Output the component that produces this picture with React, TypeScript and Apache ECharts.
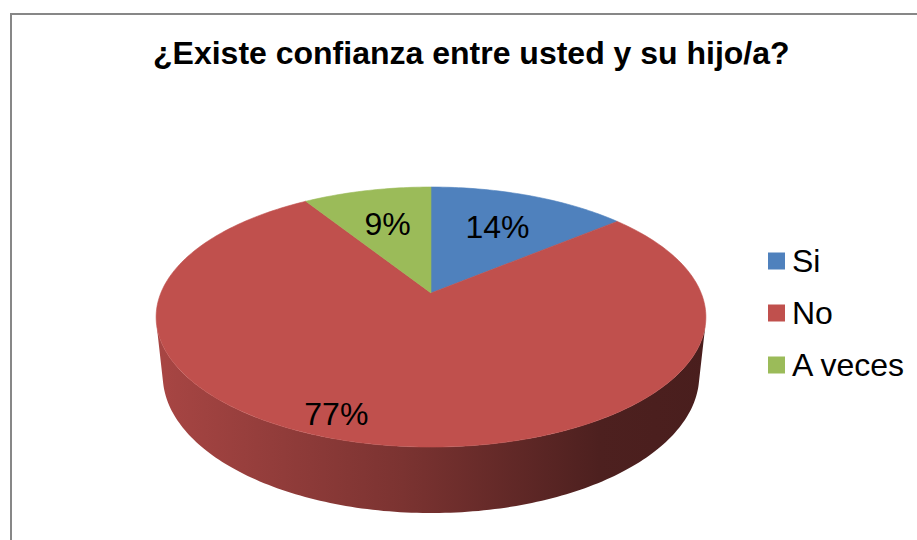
import React, { useEffect, useRef } from "react";
import * as echarts from "echarts";

const CATEGORIES = ["Si", "No", "A veces"];
const VALUES = [14, 77, 9];
const COLORS = ["#4F81BD", "#C0504D", "#9BBB59"];
const TITLE = "¿Existe confianza entre usted y su hijo/a?";

// perspective model of the 3D pie (layout constants)
const CX = 431;
const CY = 293;
const FOCAL = 1294;
const DIST = 4.79;
const TILT = (27.7 * Math.PI) / 180;
const DEPTH = 0.247;
const FONT = "'Liberation Sans', Arial, sans-serif";

const SA = Math.sin(TILT);
const CA = Math.cos(TILT);

function proj(X: number, Y: number, Z: number): number[] {
  const yc = Y * SA + Z * CA;
  const d = DIST + Y * CA - Z * SA;
  return [CX + (FOCAL * X) / d, CY - (FOCAL * yc) / d];
}
function rim(deg: number, r: number, z: number): number[] {
  const a = (deg * Math.PI) / 180;
  return proj(r * Math.sin(a), r * Math.cos(a), z);
}
function shade(hex: string, k: number): string {
  const n = parseInt(hex.slice(1), 16);
  const r = Math.round(((n >> 16) & 255) * k);
  const g = Math.round(((n >> 8) & 255) * k);
  const b = Math.round((n & 255) * k);
  return `rgb(${r},${g},${b})`;
}
function sliceRange(i: number): number[] {
  const total = VALUES.reduce((s, v) => s + v, 0);
  let acc = 0;
  for (let k = 0; k < i; k++) acc += VALUES[k];
  return [(acc / total) * 360, ((acc + VALUES[i]) / total) * 360, VALUES[i] / total];
}
function arcPoints(a0: number, a1: number, r: number, z: number): number[][] {
  const pts: number[][] = [];
  const steps = Math.max(2, Math.ceil((a1 - a0) / 1));
  for (let s = 0; s <= steps; s++) pts.push(rim(a0 + ((a1 - a0) * s) / steps, r, z));
  return pts;
}

// visible part of the side wall
const VIS_LIMIT = (Math.acos(-1 / (DIST * CA)) * 180) / Math.PI;
const VIS0 = VIS_LIMIT;
const VIS1 = 360 - VIS_LIMIT;

export default function App() {
  const ref = useRef<HTMLDivElement>(null);
  useEffect(() => {
    if (!ref.current) return;
    const chart = echarts.init(ref.current, null, { renderer: "svg" });
    const leftX = proj(-1, 0, 0)[0] - 10;
    const rightX = proj(1, 0, 0)[0] + 10;
    const option: any = {
      animation: false,
      backgroundColor: "#ffffff",
      title: {
        text: TITLE,
        left: 148,
        top: 32,
        padding: 5,
        textStyle: { fontSize: 32, fontWeight: "bold", color: "#000", fontFamily: FONT },
      },
      legend: {
        orient: "vertical",
        left: 768,
        top: 245,
        padding: 0,
        itemWidth: 17,
        itemHeight: 17,
        itemGap: 20,
        icon: "rect",
        data: CATEGORIES,
        textStyle: { fontSize: 32, color: "#000", fontFamily: FONT, lineHeight: 32, padding: [0, 0, 0, 2] },
      },
      graphic: [
        {
          type: "rect",
          shape: { x: 11, y: 14, width: 940, height: 560 },
          style: { fill: "none", stroke: "#878787", lineWidth: 2 },
          silent: true,
        },
      ],
      series: [
        {
          type: "pie",
          name: "legend",
          radius: [0, 0],
          center: [-50, -50],
          silent: true,
          label: { show: false },
          labelLine: { show: false },
          data: CATEGORIES.map((c, i) => ({ name: c, value: VALUES[i], itemStyle: { color: COLORS[i] } })),
        },
        {
          type: "custom",
          name: "sides",
          coordinateSystem: "none",
          z: 1,
          silent: true,
          data: VALUES.map((v) => [v]),
          renderItem: (params: any) => {
            const i = params.dataIndex;
            const [a0, a1] = sliceRange(i);
            const s = Math.max(a0, VIS0);
            const e = Math.min(a1, VIS1);
            if (e <= s) return { type: "group", children: [] };
            const top = arcPoints(s, e, 1, 0);
            const bottom = arcPoints(s, e, 1, -DEPTH).reverse();
            const base = COLORS[i];
            return {
              type: "polygon",
              shape: { points: top.concat(bottom) },
              style: {
                fill: {
                  type: "linear",
                  x: leftX,
                  y: 0,
                  x2: rightX,
                  y2: 0,
                  global: true,
                  colorStops: [
                    { offset: 0, color: shade(base, 0.88) },
                    { offset: 0.45, color: shade(base, 0.64) },
                    { offset: 0.8, color: shade(base, 0.4) },
                    { offset: 1, color: shade(base, 0.38) },
                  ],
                },
                stroke: null,
              },
            };
          },
        },
        {
          type: "custom",
          name: "tops",
          coordinateSystem: "none",
          z: 2,
          silent: true,
          data: VALUES.map((v) => [v]),
          renderItem: (params: any, api: any) => {
            const i = params.dataIndex;
            const [a0, a1, frac] = sliceRange(i);
            const pts = [proj(0, 0, 0)].concat(arcPoints(a0, a1, 1, 0));
            const big = frac > 0.5;
            const mid = (a0 + a1) / 2 + (big ? 11 : 0);
            const lp = rim(mid, big ? 0.87 : 0.64, 0);
            return {
              type: "group",
              children: [
                {
                  type: "polygon",
                  shape: { points: pts },
                  style: { fill: COLORS[i], stroke: COLORS[i], lineWidth: 0.6 },
                },
                {
                  type: "text",
                  x: lp[0],
                  y: lp[1],
                  z2: 10,
                  style: {
                    text: Math.round(frac * 100) + "%",
                    fill: "#000",
                    fontSize: 32,
                    fontFamily: FONT,
                    align: "center",
                    verticalAlign: "middle",
                  },
                },
              ],
            };
          },
        },
      ],
    };
    chart.setOption(option);
    return () => chart.dispose();
  }, []);
  return (
    <div
      ref={ref}
      style={{ position: "fixed", left: 0, top: 0, width: 917, height: 540, background: "#fff" }}
    />
  );
}
